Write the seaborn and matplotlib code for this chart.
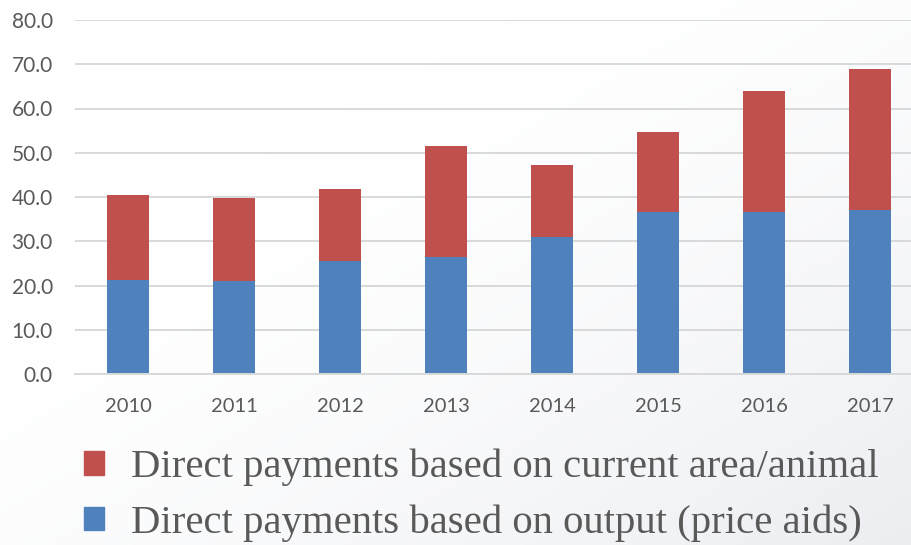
import numpy as np
import pandas as pd
import matplotlib.pyplot as plt
import seaborn as sns
from matplotlib.patches import Patch

years = ["2010", "2011", "2012", "2013", "2014", "2015", "2016", "2017"]
output_based = [21.2, 21.0, 25.5, 26.4, 31.0, 36.5, 36.7, 37.0]
area_based = [19.3, 18.8, 16.3, 25.1, 16.2, 18.1, 27.2, 31.9]

label_area = "Direct payments based on current area/animal"
label_output = "Direct payments based on output (price aids)"

df = pd.DataFrame({"year": years, "output": output_based, "area": area_based})
df["total"] = df["output"] + df["area"]

red = "#c0504d"
blue = "#4f81bd"
grey_txt = "#595959"

sns.set_theme(style="white")
plt.rcParams["font.family"] = ["Lato", "DejaVu Sans"]

fig = plt.figure(figsize=(9.12, 5.45), dpi=100)

# faint background gradient (white top-left to light grey bottom-right)
bg = fig.add_axes([0, 0, 1, 1], zorder=-10)
gx, gy = np.meshgrid(np.linspace(0, 1, 200), np.linspace(0, 1, 120))
g = np.clip((gx * 0.6 + gy * 0.6) - 0.35, 0, 1) ** 1.6
img = np.ones((120, 200, 3))
img[..., 0] -= g * 0.10
img[..., 1] -= g * 0.09
img[..., 2] -= g * 0.07
bg.imshow(img, extent=[0, 1, 0, 1], aspect="auto", origin="upper")
bg.axis("off")

ax = fig.add_axes([75 / 912, 171 / 545, 848 / 912, 354 / 545])
ax.patch.set_alpha(0)

sns.barplot(data=df, x="year", y="total", color=red, width=0.4,
            saturation=1, ax=ax, linewidth=0)
sns.barplot(data=df, x="year", y="output", color=blue, width=0.4,
            saturation=1, ax=ax, linewidth=0)

ax.set_ylim(0, 80)
ax.set_yticks(np.arange(0, 81, 10))
ax.set_yticklabels([f"{v:.1f}" for v in np.arange(0, 81, 10)])
ax.set_xlabel("")
ax.set_ylabel("")
ax.yaxis.grid(True, color="#d9d9d9", linewidth=1.4)
ax.set_axisbelow(True)
for s in ["left", "right", "top"]:
    ax.spines[s].set_visible(False)
ax.spines["bottom"].set_color("#d9d9d9")
ax.spines["bottom"].set_linewidth(1.4)
ax.tick_params(axis="both", length=0, labelsize=14.5, colors=grey_txt)
ax.tick_params(axis="y", labelsize=15, pad=16)
ax.tick_params(axis="x", pad=17)

handles = [Patch(color=red, label=label_area), Patch(color=blue, label=label_output)]
leg = fig.legend(handles=handles, loc="upper left", bbox_to_anchor=(84 / 912, 1 - 449 / 545),
                 frameon=False, handlelength=0.5, handleheight=0.5, handletextpad=0.65,
                 labelspacing=0.45, borderaxespad=0, borderpad=0,
                 prop={"family": ["Liberation Serif", "DejaVu Serif"], "size": 29.3})
for t in leg.get_texts():
    t.set_color(grey_txt)

fig.savefig("out.png", dpi=100)
